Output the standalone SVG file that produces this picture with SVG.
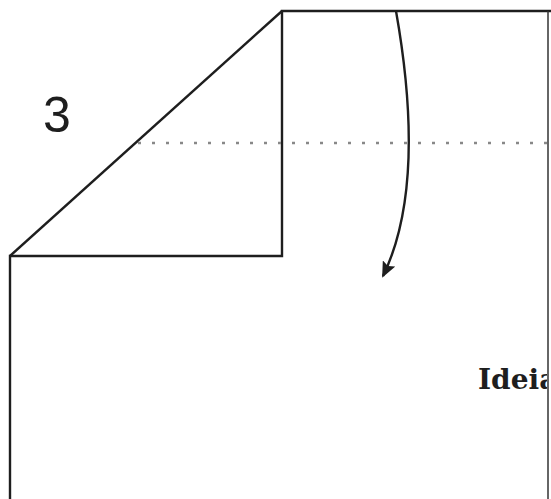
<svg xmlns="http://www.w3.org/2000/svg" width="551" height="499" viewBox="0 0 551 499">
<style>
.edge{fill:none;stroke:#1e1e1e;stroke-width:2.4;stroke-linejoin:miter}
.thin{fill:none;stroke:#333;stroke-width:1.5}
.dot{fill:none;stroke:#888;stroke-width:2.5;stroke-dasharray:3 11}
.num{font-family:"Liberation Sans",Arial,sans-serif;font-size:50px;fill:#1e1e1e}
.lbl{font-family:"DejaVu Serif",serif;font-size:28px;font-weight:bold;fill:#1e1e1e}
</style>
<defs>
<marker id="ah" markerWidth="16" markerHeight="14" refX="14" refY="7" orient="auto" markerUnits="userSpaceOnUse" viewBox="0 0 16 14">
<path d="M0,0 L16,7 L0,14 L3,7 Z" fill="#1e1e1e"/>
</marker>
<clipPath id="pg"><rect x="0" y="0" width="547" height="499"/></clipPath>
</defs>
<g id="paper">
<path class="edge" d="M10,499 L10,256 L282,256 L282,11 L551,11"/>
<path class="edge" d="M10,256 L282,11"/>
<line class="thin" x1="548" y1="11" x2="548" y2="499"/>
</g>
<g id="fold-line">
<line class="dot" x1="138" y1="143" x2="551" y2="143"/>
</g>
<g id="connectors">
<path d="M396,11 C410,90 420,200 383,276" fill="none" stroke="#1e1e1e" stroke-width="2.4" marker-end="url(#ah)"/>
</g>
<g id="labels">
<text class="num" x="43" y="132">3</text>
<text class="lbl" x="478" y="389" clip-path="url(#pg)">Ideia</text>
</g>
</svg>
